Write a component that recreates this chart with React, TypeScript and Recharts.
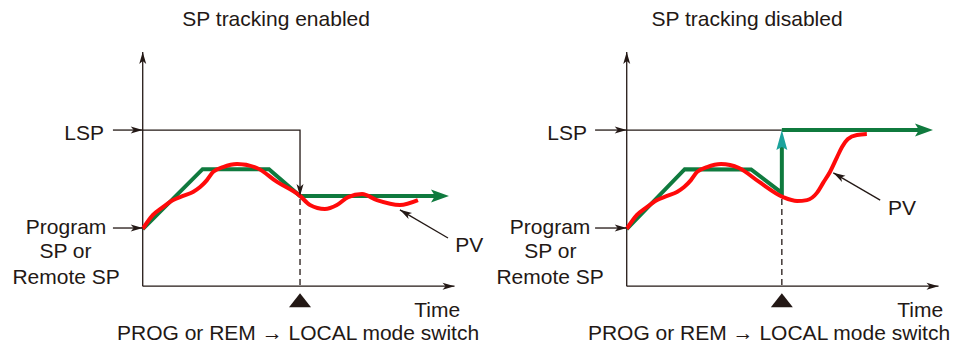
import { LineChart, Line, XAxis, YAxis, ReferenceDot } from 'recharts'

type Pt = { t: number; v: number }

// both panels share the same data space: t = time, v = process value
const T_DOMAIN: [number, number] = [-46, 110]
const V_DOMAIN: [number, number] = [-27, 123]
const W = 484
const H = 349
const PX_T = W / (T_DOMAIN[1] - T_DOMAIN[0])
const PX_V = H / (V_DOMAIN[1] - V_DOMAIN[0])

const LSP = 67.1
const SWITCH_ON = 50.7
const SWITCH_OFF = 50.0

const BLACK = '#231815'
const GREEN = '#0f7a3e'
const TEAL = '#1ba39c'
const RED = '#ff0a0a'

// axes
const yAxisLine: Pt[] = [{ t: 0, v: 0 }, { t: 0, v: 100.7 }]
const xAxisLine: Pt[] = [{ t: 0, v: 0 }, { t: 100.5, v: 0 }]

// left panel: SP tracking enabled
const spEnabled: Pt[] = [
  { t: 0, v: 24.5 }, { t: 19.3, v: 50.3 }, { t: 40.7, v: 50.3 }, { t: SWITCH_ON, v: 38.8 }, { t: 94.2, v: 38.8 },
]
const pvEnabled: Pt[] = [
  { t: 0, v: 24.6 }, { t: 3.3, v: 30.6 }, { t: 6.5, v: 34.0 }, { t: 9.8, v: 37.0 }, { t: 13.0, v: 38.8 },
  { t: 16.2, v: 40.5 }, { t: 18.5, v: 42.6 }, { t: 20.7, v: 45.6 }, { t: 22.7, v: 49.1 }, { t: 25.9, v: 51.2 },
  { t: 30.4, v: 52.5 }, { t: 36.8, v: 50.8 }, { t: 43.3, v: 44.8 }, { t: 50.7, v: 38.8 }, { t: 53.9, v: 34.9 },
  { t: 58.7, v: 33.2 }, { t: 62.6, v: 34.9 }, { t: 66.2, v: 38.3 }, { t: 70.7, v: 39.6 }, { t: 75.5, v: 37.0 },
  { t: 82.9, v: 34.9 }, { t: 88.7, v: 37.0 },
]
const lspTrackOn: Pt[] = [{ t: 0, v: LSP }, { t: SWITCH_ON, v: LSP }, { t: SWITCH_ON, v: 38.8 }]
const dashOn: Pt[] = [{ t: SWITCH_ON, v: 37.5 }, { t: SWITCH_ON, v: 0 }]
const pvPointerOn: Pt[] = [{ t: 98.4, v: 20.7 }, { t: 82.9, v: 32.8 }]

// right panel: SP tracking disabled
const spDisabled: Pt[] = [
  { t: 0, v: 24.5 }, { t: 18.7, v: 50.3 }, { t: 40.1, v: 50.2 }, { t: SWITCH_OFF, v: 40.1 }, { t: SWITCH_OFF, v: 59.8 },
]
const spLocal: Pt[] = [{ t: SWITCH_OFF, v: LSP }, { t: 94.2, v: LSP }]
const pvDisabled: Pt[] = [
  { t: 0, v: 24.6 }, { t: 3.3, v: 30.6 }, { t: 6.5, v: 34.0 }, { t: 9.8, v: 37.0 }, { t: 13.0, v: 38.8 },
  { t: 16.2, v: 40.5 }, { t: 18.5, v: 42.6 }, { t: 20.7, v: 45.6 }, { t: 22.7, v: 49.1 }, { t: 25.9, v: 51.2 },
  { t: 30.4, v: 52.5 }, { t: 36.2, v: 50.8 }, { t: 42.7, v: 44.8 }, { t: 50.4, v: 38.3 }, { t: 54.9, v: 36.6 },
  { t: 58.1, v: 37.0 }, { t: 61.3, v: 40.1 }, { t: 63.3, v: 44.4 }, { t: 65.5, v: 49.1 }, { t: 67.8, v: 55.5 },
  { t: 69.4, v: 59.8 }, { t: 71.3, v: 63.3 }, { t: 74.2, v: 65.0 }, { t: 77.4, v: 65.4 },
]
const lspTrackOff: Pt[] = [{ t: 0, v: LSP }, { t: SWITCH_OFF, v: LSP }]
const dashOff: Pt[] = [{ t: SWITCH_OFF, v: 37.5 }, { t: SWITCH_OFF, v: 0 }]
const pvPointerOff: Pt[] = [{ t: 81.7, v: 37.0 }, { t: 66.6, v: 48.7 }]

// label pointers (outside the axis)
const lspArrowOn: Pt[] = [{ t: -9.6, v: LSP }, { t: 0, v: LSP }]
const progArrowOn: Pt[] = [{ t: -9.6, v: 25.0 }, { t: 0, v: 25.0 }]
const lspArrowOff: Pt[] = [{ t: -10.2, v: LSP }, { t: 0, v: LSP }]
const progArrowOff: Pt[] = [{ t: -10.2, v: 25.0 }, { t: 0, v: 25.0 }]

type Lbl = { t: number; v: number; text: string; anchor: 'start' | 'middle' | 'end' }

const labelsOn: Lbl[] = [
  { t: 43.0, v: 111.8, text: 'SP tracking enabled', anchor: 'middle' },
  { t: -12.5, v: 62.8, text: 'LSP', anchor: 'end' },
  { t: -24.7, v: 22.4, text: 'Program', anchor: 'middle' },
  { t: -24.9, v: 12.1, text: 'SP or', anchor: 'middle' },
  { t: -24.7, v: 0.9, text: 'Remote SP', anchor: 'middle' },
  { t: 100.7, v: 14.7, text: 'PV', anchor: 'start' },
  { t: 102.3, v: -13.2, text: 'Time', anchor: 'end' },
  { t: -8.3, v: -23.1, text: 'PROG or REM \u2192 LOCAL mode switch', anchor: 'start' },
]
const labelsOff: Lbl[] = [
  { t: 38.8, v: 111.8, text: 'SP tracking disabled', anchor: 'middle' },
  { t: -12.8, v: 62.8, text: 'LSP', anchor: 'end' },
  { t: -24.7, v: 22.4, text: 'Program', anchor: 'middle' },
  { t: -24.6, v: 12.1, text: 'SP or', anchor: 'middle' },
  { t: -24.7, v: 0.9, text: 'Remote SP', anchor: 'middle' },
  { t: 84.2, v: 30.6, text: 'PV', anchor: 'start' },
  { t: 102.0, v: -13.2, text: 'Time', anchor: 'end' },
  { t: -12.5, v: -23.1, text: 'PROG or REM \u2192 LOCAL mode switch', anchor: 'start' },
]

type ArrowOpts = { color: string; len: number; hw: number; notch: number; ahead: number }
const THIN: ArrowOpts = { color: BLACK, len: 12, hw: 3.5, notch: 3, ahead: 0 }
const THICK: ArrowOpts = { color: GREEN, len: 18, hw: 6.5, notch: 4, ahead: 14 }
const TEAL_HEAD: ArrowOpts = { color: TEAL, len: 20, hw: 5.5, notch: 3, ahead: 17 }

// arrowhead drawn on the last point of a series
function arrowDot(data: Pt[], o: ArrowOpts) {
  const last = data.length - 1
  return (props: any) => {
    const { cx, cy, index, points } = props
    if (index !== last || cx == null || cy == null) return <g key={`d-${index}`} />
    let dx: number
    let dy: number
    if (points && points[index - 1] && points[index - 1].x != null) {
      dx = cx - points[index - 1].x
      dy = cy - points[index - 1].y
    } else {
      dx = (data[last].t - data[last - 1].t) * PX_T
      dy = -(data[last].v - data[last - 1].v) * PX_V
    }
    const d = Math.hypot(dx, dy) || 1
    const ux = dx / d
    const uy = dy / d
    const tx = cx + ux * o.ahead
    const ty = cy + uy * o.ahead
    const bx = tx - ux * o.len
    const by = ty - uy * o.len
    const nx = bx + ux * o.notch
    const ny = by + uy * o.notch
    const pts = [
      [tx, ty],
      [bx - uy * o.hw, by + ux * o.hw],
      [nx, ny],
      [bx + uy * o.hw, by - ux * o.hw],
    ]
    return <polygon key={`d-${index}`} points={pts.map((p) => p.join(',')).join(' ')} fill={o.color} />
  }
}

const triangleShape = (p: any) => (
  <polygon
    points={`${p.cx},${p.cy + 7} ${p.cx - 11},${p.cy + 21} ${p.cx + 11},${p.cy + 21}`}
    fill={BLACK}
  />
)

const textShape = (l: Lbl) => (p: any) => (
  <text
    x={p.cx}
    y={p.cy}
    textAnchor={l.anchor}
    fontSize={21}
    fontFamily='"Liberation Sans", Arial, Helvetica, sans-serif'
    fill={BLACK}
  >
    {l.text}
  </text>
)

interface PanelProps {
  sp: Pt[]
  spExtra?: Pt[]
  pv: Pt[]
  lspTrack: Pt[]
  lspArrowHead: boolean
  dash: Pt[]
  pointer: Pt[]
  lspArrow: Pt[]
  progArrow: Pt[]
  labels: Lbl[]
  switchT: number
  spHead: ArrowOpts
}

function Panel({ sp, spExtra, pv, lspTrack, lspArrowHead, dash, pointer, lspArrow, progArrow, labels, switchT, spHead }: PanelProps) {
  const thin = (data: Pt[], key: string, head = true, dashArr?: string) => (
    <Line
      key={key}
      data={data}
      dataKey="v"
      type="linear"
      stroke={BLACK}
      strokeWidth={1.3}
      strokeDasharray={dashArr}
      dot={head ? arrowDot(data, THIN) : false}
      activeDot={false}
      isAnimationActive={false}
    />
  )
  return (
    <LineChart width={W} height={H} margin={{ top: 0, right: 0, bottom: 0, left: 0 }}>
      <XAxis dataKey="t" type="number" domain={T_DOMAIN} allowDataOverflow hide />
      <YAxis type="number" domain={V_DOMAIN} allowDataOverflow hide />
      {thin(yAxisLine, 'yaxis')}
      {thin(xAxisLine, 'xaxis')}
      {thin(dash, 'dash', false, '6 4')}
      {thin(lspTrack, 'lsp', lspArrowHead)}
      <Line
        data={sp}
        dataKey="v"
        type="linear"
        stroke={GREEN}
        strokeWidth={4}
        dot={arrowDot(sp, spHead)}
        activeDot={false}
        isAnimationActive={false}
      />
      {spExtra && (
        <Line
          data={spExtra}
          dataKey="v"
          type="linear"
          stroke={GREEN}
          strokeWidth={4}
          dot={arrowDot(spExtra, THICK)}
          activeDot={false}
          isAnimationActive={false}
        />
      )}
      <Line
        data={pv}
        dataKey="v"
        type="monotone"
        stroke={RED}
        strokeWidth={4}
        dot={false}
        activeDot={false}
        isAnimationActive={false}
      />
      {thin(pointer, 'pointer')}
      {thin(lspArrow, 'lspArrow')}
      {thin(progArrow, 'progArrow')}
      <ReferenceDot x={switchT} y={0} r={0} shape={triangleShape} />
      {labels.map((l, i) => (
        <ReferenceDot key={i} x={l.t} y={l.v} r={0} shape={textShape(l)} />
      ))}
    </LineChart>
  )
}

export default function App() {
  return (
    <div style={{ position: 'absolute', left: 0, top: 0, display: 'flex', background: '#fff' }}>
      <Panel
        sp={spEnabled}
        pv={pvEnabled}
        lspTrack={lspTrackOn}
        lspArrowHead={true}
        dash={dashOn}
        pointer={pvPointerOn}
        lspArrow={lspArrowOn}
        progArrow={progArrowOn}
        labels={labelsOn}
        switchT={SWITCH_ON}
        spHead={THICK}
      />
      <Panel
        sp={spDisabled}
        spExtra={spLocal}
        pv={pvDisabled}
        lspTrack={lspTrackOff}
        lspArrowHead={false}
        dash={dashOff}
        pointer={pvPointerOff}
        lspArrow={lspArrowOff}
        progArrow={progArrowOff}
        labels={labelsOff}
        switchT={SWITCH_OFF}
        spHead={TEAL_HEAD}
      />
    </div>
  )
}
